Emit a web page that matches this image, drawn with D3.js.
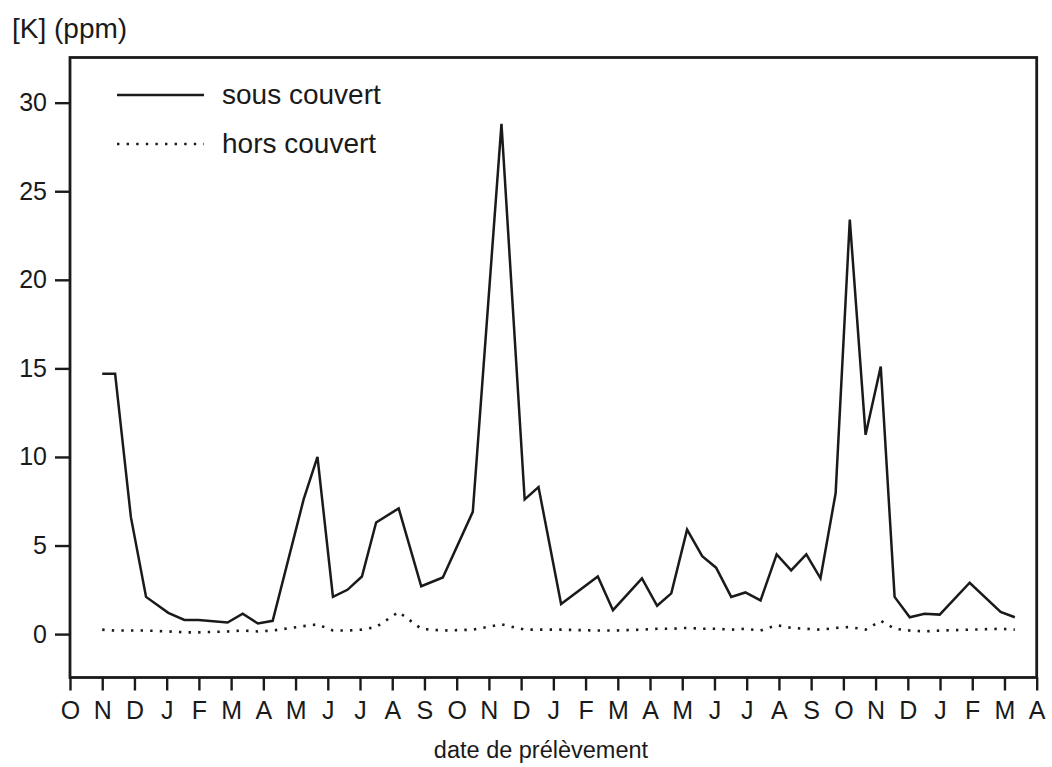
<!DOCTYPE html>
<meta charset="utf-8">
<style>
body { margin: 0; background: #fff; font-family: "Liberation Sans", Arial, sans-serif; }
.axis path { display: none; }
.axis line { stroke: #1a1a1a; stroke-width: 2.4; }
.axis text { fill: #1a1a1a; font-family: "Liberation Sans", Arial, sans-serif; }
.line { fill: none; stroke: #1a1a1a; stroke-linejoin: miter; }
</style>
<body>
<script src="https://d3js.org/d3.v7.min.js"></script>
<script>

// month ticks (Oct .. Apr, two seasons)
var months = ["O","N","D","J","F","M","A","M","J","J","A","S","O","N","D","J","F","M","A","M","J","J","A","S","O","N","D","J","F","M","A"];

// sampling dates, in months from the first October
var dates = [1.00,1.40,1.89,2.36,3.05,3.55,3.99,4.89,5.36,5.83,6.29,7.25,7.68,8.16,8.61,9.06,9.50,10.20,10.90,11.57,
             12.50,13.39,14.11,14.54,15.24,16.38,16.85,17.75,18.22,18.66,19.15,19.62,20.05,20.52,20.96,21.43,21.93,22.38,22.85,23.29,
             23.76,24.20,24.69,25.16,25.59,26.06,26.52,26.99,27.92,28.88,29.32];

// [K] ppm, under canopy
var sousCouvert = [14.7,14.7,6.6,2.1,1.2,0.8,0.8,0.65,1.15,0.6,0.75,7.6,10.0,2.1,2.5,3.25,6.3,7.1,2.7,3.2,
                   6.9,28.8,7.6,8.3,1.7,3.25,1.35,3.15,1.6,2.3,5.9,4.4,3.75,2.1,2.35,1.9,4.5,3.6,4.5,3.15,
                   7.95,23.4,11.25,15.1,2.1,0.95,1.15,1.1,2.9,1.25,0.95];

// [K] ppm, open field
var horsCouvert = [0.25,0.2,0.2,0.2,0.15,0.1,0.1,0.15,0.2,0.15,0.2,0.45,0.55,0.2,0.2,0.25,0.4,1.25,0.3,0.2,
                   0.25,0.55,0.25,0.25,0.25,0.2,0.2,0.25,0.3,0.3,0.35,0.3,0.3,0.25,0.3,0.2,0.5,0.35,0.3,0.25,
                   0.35,0.4,0.25,0.75,0.3,0.2,0.15,0.2,0.25,0.3,0.25];

var yTicks = [0,5,10,15,20,25,30];

var width = 1052, height = 767;
// plot box (window.top is reserved, so use a margin object)
var box = {left: 70, right: 1036.7, top: 57.5, bottom: 677.5};

var svg = d3.select("body").append("svg")
    .attr("width", width)
    .attr("height", height);

var x = d3.scaleLinear().domain([0, months.length - 1]).range([box.left, box.right]);
var y = d3.scaleLinear().domain([-2.45, 32.55]).range([box.bottom, box.top]);

// frame
svg.append("rect")
    .attr("x", box.left).attr("y", box.top)
    .attr("width", box.right - box.left).attr("height", box.bottom - box.top)
    .attr("fill", "none").attr("stroke", "#1a1a1a").attr("stroke-width", 2.8);

// x axis
var xa = svg.append("g")
    .attr("class", "axis")
    .attr("transform", "translate(0," + box.bottom + ")")
    .call(d3.axisBottom(x)
        .tickValues(d3.range(months.length))
        .tickFormat(function(i) { return months[i]; })
        .tickSize(13)
        .tickPadding(11));
xa.selectAll("text").style("font-size", "25px");

// y axis
var ya = svg.append("g")
    .attr("class", "axis")
    .attr("transform", "translate(" + box.left + ",0)")
    .call(d3.axisLeft(y).tickValues(yTicks).tickSize(15).tickPadding(8));
ya.selectAll("text").style("font-size", "25px");

// series
var line = d3.line()
    .x(function(d) { return x(d[0]); })
    .y(function(d) { return y(d[1]); });

svg.append("path")
    .attr("class", "line")
    .attr("stroke-width", 2.5)
    .attr("d", line(d3.zip(dates, sousCouvert)));

svg.append("path")
    .attr("class", "line")
    .attr("stroke-width", 2.6)
    .attr("stroke-dasharray", "2.4,7.2")
    .attr("d", line(d3.zip(dates, horsCouvert)));

// legend
var legend = [["sous couvert", null, 2.5], ["hors couvert", "2.4,7.2", 2.6]];
legend.forEach(function(d, i) {
    var ly = 95 + i * 49;
    svg.append("line")
        .attr("x1", 117).attr("x2", 204)
        .attr("y1", ly).attr("y2", ly)
        .attr("stroke", "#1a1a1a").attr("stroke-width", d[2])
        .attr("stroke-dasharray", d[1]);
    svg.append("text")
        .attr("x", 222).attr("y", ly + 9)
        .style("font-size", "28px").attr("fill", "#1a1a1a")
        .text(d[0]);
});

// titles
svg.append("text")
    .attr("x", 12).attr("y", 38)
    .style("font-size", "28px").attr("fill", "#1a1a1a")
    .text("[K] (ppm)");

svg.append("text")
    .attr("x", 541).attr("y", 758)
    .attr("text-anchor", "middle")
    .style("font-size", "23.5px").attr("fill", "#1a1a1a")
    .text("date de prélèvement");

</script>
</body>
